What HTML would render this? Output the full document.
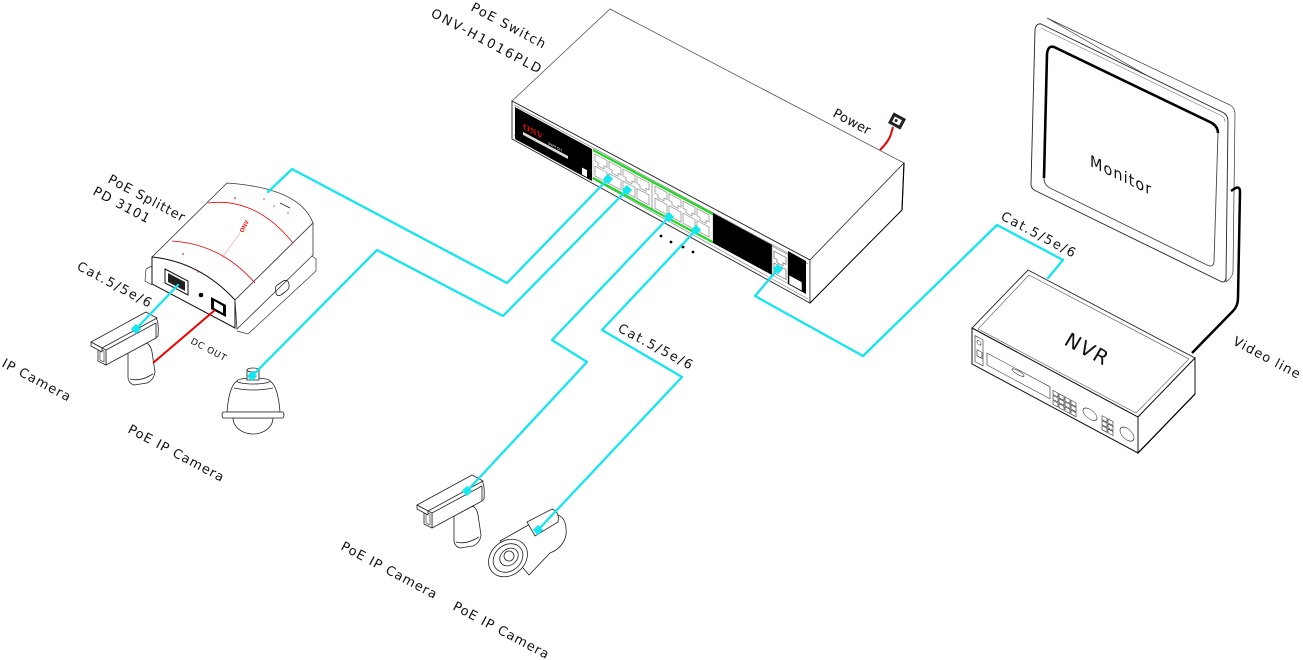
<!DOCTYPE html>
<html><head><meta charset="utf-8"><style>
html,body{margin:0;padding:0;background:#fff;}
svg{display:block;}
</style></head><body>
<svg width="1303" height="660" viewBox="0 0 1303 660" xmlns="http://www.w3.org/2000/svg">
<rect width="1303" height="660" fill="#fff"/>

<!-- ================= SWITCH ================= -->
<polygon points="610,9 904,163 810,260 512,101" fill="#fff" stroke="#555" stroke-width="0.8"/>
<polygon points="512,101 810,260 810,303 512,139" fill="#fff" stroke="#222" stroke-width="0.9"/>
<polyline points="514,105 808,264" fill="none" stroke="#777" stroke-width="0.6"/>
<polyline points="514,135 808,299" fill="none" stroke="#777" stroke-width="0.6"/>
<polygon points="810,260 904,163 902,210 810,303" fill="#fff" stroke="#333" stroke-width="0.8"/>
<line x1="904" y1="163" x2="902" y2="210" stroke="#000" stroke-width="1.2"/>
<line x1="810" y1="303" x2="902" y2="210" stroke="#000" stroke-width="0.9"/>

<polygon points="515,107 592,149 592,181 515,139" fill="#000"/>
<g transform="matrix(1,0.535,0,1,512,101)">
  <text x="11" y="22" font-size="9" font-family="Liberation Serif, serif" font-weight="bold" fill="#e01010">ONV</text>
  <text x="36" y="24" font-size="3.5" font-family="Liberation Sans, sans-serif" fill="#fff">SWITCH</text>
  <rect x="11" y="25" width="45" height="3" fill="#ddd"/>
  <rect x="70" y="29" width="5" height="7" fill="#fff"/>
</g>

<g transform="matrix(1,0.535,0,1,593,150)">
  <rect x="0" y="0" width="120" height="28" fill="#fff" stroke="#999" stroke-width="0.5"/>
  <g fill="#fff" stroke="#888" stroke-width="0.7">
    <path transform="translate(2,3)" d="M0,0h12v7h-3v3h-6v-3h-3z"/>
    <path transform="translate(16,3)" d="M0,0h12v7h-3v3h-6v-3h-3z"/>
    <path transform="translate(30,3)" d="M0,0h12v7h-3v3h-6v-3h-3z"/>
    <path transform="translate(44,3)" d="M0,0h12v7h-3v3h-6v-3h-3z"/>
    <path transform="translate(62,3)" d="M0,0h12v7h-3v3h-6v-3h-3z"/>
    <path transform="translate(76,3)" d="M0,0h12v7h-3v3h-6v-3h-3z"/>
    <path transform="translate(90,3)" d="M0,0h12v7h-3v3h-6v-3h-3z"/>
    <path transform="translate(104,3)" d="M0,0h12v7h-3v3h-6v-3h-3z"/>
    <path transform="translate(2,15)" d="M0,0h12v10h-12z"/>
    <path transform="translate(16,15)" d="M0,0h12v10h-12z"/>
    <path transform="translate(30,15)" d="M0,0h12v10h-12z"/>
    <path transform="translate(44,15)" d="M0,0h12v10h-12z"/>
    <path transform="translate(62,15)" d="M0,0h12v10h-12z"/>
    <path transform="translate(76,15)" d="M0,0h12v10h-12z"/>
    <path transform="translate(90,15)" d="M0,0h12v10h-12z"/>
    <path transform="translate(104,15)" d="M0,0h12v10h-12z"/>
  </g>
  <line x1="59" y1="1" x2="59" y2="27" stroke="#888" stroke-width="0.8"/>
  <line x1="0" y1="0" x2="120" y2="0" stroke="#1fd81f" stroke-width="2.5"/>
  <line x1="0" y1="28" x2="120" y2="28" stroke="#1fd81f" stroke-width="2.5"/>
</g>

<polygon points="713,213 772,245 772,275 713,243" fill="#000"/>
<g transform="matrix(1,0.535,0,1,772,246)">
  <rect x="0" y="0" width="16" height="29" fill="#fff" stroke="#777" stroke-width="0.6"/>
  <path transform="translate(2,4)" d="M0,0h12v7h-3v3h-6v-3h-3z" fill="#fff" stroke="#666" stroke-width="0.7"/>
  <path transform="translate(2,16)" d="M0,0h12v10h-12z" fill="#fff" stroke="#666" stroke-width="0.7"/>
</g>
<polygon points="788,251 806,261 806,294 788,284" fill="#000"/>
<polygon points="789,275 802,282 802,291 789,284" fill="#fff" stroke="#000" stroke-width="0.6"/>

<g fill="#000">
  <circle cx="661" cy="236" r="1.4"/><circle cx="671" cy="242" r="1.4"/>
  <circle cx="683" cy="247" r="1.4"/><circle cx="693" cy="252" r="1.4"/>
</g>

<!-- power -->
<path d="M880,150 Q889,141 891,134 L893,127" stroke="#e00" stroke-width="2" fill="none"/>
<g transform="rotate(28 897 121)">
  <rect x="890" y="115" width="14" height="12" fill="#222"/>
  <rect x="893" y="118" width="8" height="6" fill="#fff"/>
  <circle cx="896" cy="121" r="1.5" fill="#222"/>
</g>

<!-- ================= SPLITTER ================= -->
<path d="M152,266 L146,269 L145,281 L152,285" fill="#fff" stroke="#333" stroke-width="0.7"/>
<path d="M237,331 L248,334 L316,271 L316,259 L312,256" fill="#fff" stroke="#333" stroke-width="0.7"/>
<path d="M152,257 L227,183 Q300,188 313,223 L235,300 Q200,262 152,257 Z" fill="#fff" stroke="#333" stroke-width="0.8"/>
<path d="M152,257 Q200,262 235,300 L235,328 L152,284 Z" fill="#fff" stroke="#111" stroke-width="1"/>
<polygon points="235,300 313,223 313,255 237,329" fill="#fff" stroke="#333" stroke-width="0.8"/>
<line x1="235" y1="300" x2="313" y2="223" stroke="#555" stroke-width="0.8"/>
<path d="M208,203 Q256,197 293,243" stroke="#e00" stroke-width="0.8" fill="none"/>
<path d="M172,241 Q221,244 255,283" stroke="#e00" stroke-width="0.8" fill="none"/>
<line x1="222" y1="258" x2="240" y2="233" stroke="#f66" stroke-width="0.5"/>
<text transform="translate(243,233) rotate(-62)" font-size="6" font-family="Liberation Sans, sans-serif" font-weight="bold" fill="#e00">ONV</text>
<g fill="#e22">
  <circle cx="235" cy="198" r="0.9"/><circle cx="183" cy="254" r="0.9"/>
  <circle cx="198" cy="272" r="0.7"/><circle cx="264" cy="199" r="0.7"/>
  <circle cx="274" cy="206" r="0.7"/><circle cx="288" cy="213" r="0.7"/>
</g>
<line x1="280" y1="203" x2="290" y2="208" stroke="#222" stroke-width="0.8"/>
<polygon points="165,269 188,281 188,295 165,283" fill="#fff" stroke="#111" stroke-width="1"/>
<polygon points="168,273 185,282 185,291 168,282" fill="#222"/>
<circle cx="201" cy="295" r="2.3" fill="#000"/>
<polygon points="211,297 226,305 226,317 211,309" fill="#000"/>
<polygon points="214,301 223,306 223,313 214,308" fill="#fff"/>
<path d="M276,292 Q274,286 279,284 L283,281 Q288,279 289,284 Q290,289 285,292 L281,295 Q276,297 276,292 Z" fill="none" stroke="#222" stroke-width="0.8"/>

<!-- ================= MONITOR ================= -->
<path d="M1047,18 L1230,105 Q1235,108 1235,114 L1233,272 Q1232,278 1226,282 L1224,120 Z" fill="#fff" stroke="#333" stroke-width="0.7"/>
<path d="M1041,24 L1224,113 Q1228,116 1228,121 L1226,278 Q1225,284 1220,281 L1036,191 Q1031,189 1031,184 L1035,30 Q1036,23 1041,24 Z" fill="#fff" stroke="#222" stroke-width="0.9"/>
<path d="M1041,28 L1222,116 Q1225,118 1225,122" fill="none" stroke="#777" stroke-width="0.6"/>
<path d="M1054,47 L1212,123 Q1218,127 1218,133 L1214,262 Q1213,268 1207,265 L1050,188 Q1044,185 1044,178 L1047,54 Q1048,45 1054,47 Z" fill="#fff" stroke="#444" stroke-width="0.9"/>
<path d="M1044,178 L1047,54 Q1048,45 1054,47 L1212,123 Q1218,127 1218,133" fill="none" stroke="#000" stroke-width="2.6"/>

<!-- video line -->
<path d="M1192,353 L1233,311 Q1238,306 1238,298 L1240,192 Q1240,185 1234,189 L1231,191" fill="none" stroke="#000" stroke-width="2.5"/>

<!-- ================= NVR ================= -->
<polygon points="1028,270 1195,358 1138,417 972,328" fill="#fff" stroke="#222" stroke-width="0.9"/>
<polygon points="1029,275 1189,359 1136,413 978,329" fill="none" stroke="#555" stroke-width="0.6"/>
<polygon points="972,328 1138,417 1138,453 972,364" fill="#fff" stroke="#111" stroke-width="1"/>
<polygon points="1138,417 1195,358 1195,394 1138,453" fill="#fff" stroke="#111" stroke-width="1"/>
<line x1="1138" y1="453" x2="1195" y2="394" stroke="#000" stroke-width="1.2"/>
<g transform="matrix(1,0.536,0,1,972,328)" fill="none" stroke="#222" stroke-width="0.6">
  <rect x="3" y="6" width="8" height="26"/>
  <circle cx="7" cy="11" r="2"/>
  <rect x="5" y="19" width="5" height="6"/>
  <rect x="15" y="17" width="63" height="12"/>
  <ellipse cx="46" cy="20" rx="6" ry="2"/>
  <rect x="81" y="19" width="5" height="4"/><rect x="87" y="19" width="5" height="4"/><rect x="93" y="19" width="5" height="4"/><rect x="99" y="19" width="5" height="4"/>
  <rect x="81" y="24" width="5" height="4"/><rect x="87" y="24" width="5" height="4"/><rect x="93" y="24" width="5" height="4"/><rect x="99" y="24" width="5" height="4"/>
  <rect x="81" y="29" width="5" height="4"/><rect x="87" y="29" width="5" height="4"/><rect x="93" y="29" width="5" height="4"/><rect x="99" y="29" width="5" height="4"/>
  <ellipse cx="118" cy="23" rx="7" ry="5"/>
  <rect x="130" y="18" width="5" height="4"/><rect x="136" y="18" width="5" height="4"/>
  <rect x="130" y="23" width="5" height="4"/><rect x="136" y="23" width="5" height="4"/>
  <rect x="130" y="28" width="5" height="4"/><rect x="136" y="28" width="5" height="4"/>
  <ellipse cx="155" cy="23" rx="7" ry="6"/>
</g>

<!-- ================= CAMERAS ================= -->
<g fill="#fff" stroke="#222" stroke-width="0.8" stroke-linejoin="round">
  <path d="M128,353 L147,343 Q151,346 152,352 L155,372 Q154,380 147,383 L134,385 Q128,383 128,377 Z"/>
  <path d="M130,379 Q140,382 153,374" fill="none"/>
  <polygon points="106,350 156,323 156,338 106,365"/>
  <polygon points="98,346 106,350 106,365 98,361"/>
  <polygon points="100,349 104,351 104,362 100,360" fill="none" stroke-width="0.6"/>
  <polygon points="91,342 146,312 157,318 102,348"/>
  <polygon points="91,342 102,348 102,352 91,346"/>
  <path d="M156,318 Q159,322 158,336 L156,338" fill="none"/>
</g>
<g transform="translate(326,163)" fill="#fff" stroke="#222" stroke-width="0.8" stroke-linejoin="round">
  <path d="M128,353 L147,343 Q151,346 152,352 L155,372 Q154,380 147,383 L134,385 Q128,383 128,377 Z"/>
  <path d="M130,379 Q140,382 153,374" fill="none"/>
  <polygon points="106,350 156,323 156,338 106,365"/>
  <polygon points="98,346 106,350 106,365 98,361"/>
  <polygon points="100,349 104,351 104,362 100,360" fill="none" stroke-width="0.6"/>
  <polygon points="91,342 146,312 157,318 102,348"/>
  <polygon points="91,342 102,348 102,352 91,346"/>
  <path d="M156,318 Q159,322 158,336 L156,338" fill="none"/>
</g>

<!-- dome camera -->
<g fill="#fff" stroke="#222" stroke-width="0.8">
  <path d="M233,418 A20,16 0 0 0 273,418 Z"/>
  <path d="M237,381 Q229,386 227,412 L280,412 Q278,386 270,381 Z"/>
  <path d="M223,412 L283,412 Q285,415 283,418 L223,418 Q221,415 223,412 Z"/>
  <ellipse cx="253.5" cy="381" rx="16.5" ry="3"/>
  <path d="M234,388 Q253,392 273,388" fill="none"/>
  <rect x="247" y="370" width="12" height="10"/>
  <ellipse cx="253" cy="370" rx="6" ry="2"/>
</g>

<!-- bullet camera -->
<g fill="#fff" stroke="#222" stroke-width="0.8">
  <path d="M500,541 L546,515 Q568,510 566,535 Q563,548 550,553 L529,575 Z"/>
  <path d="M527,522 L552,509 Q560,512 558,522 L535,536 Z"/>
  <ellipse cx="508" cy="558" rx="21" ry="17" transform="rotate(-40 508 558)"/>
  <ellipse cx="508" cy="558" rx="16" ry="13" transform="rotate(-40 508 558)"/>
  <ellipse cx="509" cy="557" rx="10" ry="8" transform="rotate(-40 509 557)"/>
  <circle cx="509" cy="556" r="5"/>
</g>

<!-- ================= CABLES ================= -->
<g fill="none" stroke="#14e6ef" stroke-width="2.3" stroke-linejoin="round" stroke-linecap="round">
  <polyline points="608,179 507,283 292,169 268,192"/>
  <polyline points="627,190 503,316 377,250 252,376"/>
  <polyline points="669,217 552,340 587,362 467,491"/>
  <polyline points="696,230 602,330 682,377 538,530"/>
  <polyline points="778,269 755,296 863,356 997,225 1063,260 1048,278"/>
  <polyline points="178,285 136,329"/>
</g>
<line x1="215" y1="310" x2="153" y2="363" stroke="#e00" stroke-width="2"/>

<g fill="#14e6ef">
  <rect x="-3.6" y="-3.6" width="7.2" height="7.2" transform="translate(608,179) rotate(45)"/>
  <rect x="-3.6" y="-3.6" width="7.2" height="7.2" transform="translate(627,190) rotate(45)"/>
  <rect x="-3.6" y="-3.6" width="7.2" height="7.2" transform="translate(669,217) rotate(45)"/>
  <rect x="-3.6" y="-3.6" width="7.2" height="7.2" transform="translate(696,230) rotate(45)"/>
  <rect x="-3.6" y="-3.6" width="7.2" height="7.2" transform="translate(778,269) rotate(45)"/>
  <rect x="-3.6" y="-3.6" width="7.2" height="7.2" transform="translate(136,329) rotate(45)"/>
  <rect x="-3.6" y="-3.6" width="7.2" height="7.2" transform="translate(252,376) rotate(45)"/>
  <rect x="-3.6" y="-3.6" width="7.2" height="7.2" transform="translate(467,491) rotate(45)"/>
  <rect x="-3.6" y="-3.6" width="7.2" height="7.2" transform="translate(538,530) rotate(45)"/>
</g>

<!-- ================= LABELS ================= -->
<g font-family="DejaVu Sans, Liberation Sans, sans-serif" fill="#111" font-size="13">
  <text x="470" y="10" letter-spacing="1.3" transform="rotate(28 470 10)">PoE Switch</text>
  <text x="430" y="16" letter-spacing="2" transform="rotate(28 430 16)">ONV-H1016PLD</text>
  <text x="832" y="116" letter-spacing="0.3" transform="rotate(28 832 116)">Power</text>
  <text x="107" y="182" letter-spacing="0.9" transform="rotate(28 107 182)">PoE Splitter</text>
  <text x="92" y="194" letter-spacing="1.2" transform="rotate(28 92 194)">PD 3101</text>
  <text x="76" y="269" letter-spacing="1.6" transform="rotate(28 76 269)">Cat.5/5e/6</text>
  <text x="1" y="366" letter-spacing="1.1" transform="rotate(28 1 366)">IP Camera</text>
  <text x="190" y="343" font-size="9" letter-spacing="0.7" transform="rotate(28 190 343)">DC OUT</text>
  <text x="127" y="432" letter-spacing="1" transform="rotate(28 127 432)">PoE IP Camera</text>
  <text x="617" y="331" letter-spacing="1.6" transform="rotate(28 617 331)">Cat.5/5e/6</text>
  <text x="340" y="549" letter-spacing="1" transform="rotate(28 340 549)">PoE IP Camera</text>
  <text x="452" y="609" letter-spacing="1" transform="rotate(28 452 609)">PoE IP Camera</text>
  <text x="1000" y="219" letter-spacing="1.6" transform="rotate(28 1000 219)">Cat.5/5e/6</text>
  <text x="1232" y="344" letter-spacing="1.1" transform="rotate(28 1232 344)">Video line</text>
  <text x="0" y="0" font-size="16" letter-spacing="1.2" transform="matrix(0.9,0.43,0,1,1090,166)">Monitor</text>
  <text x="0" y="0" font-size="20" letter-spacing="1.7" transform="matrix(0.883,0.469,-0.5,0.85,1063,344)">NVR</text>
</g>
</svg>
</body></html>
